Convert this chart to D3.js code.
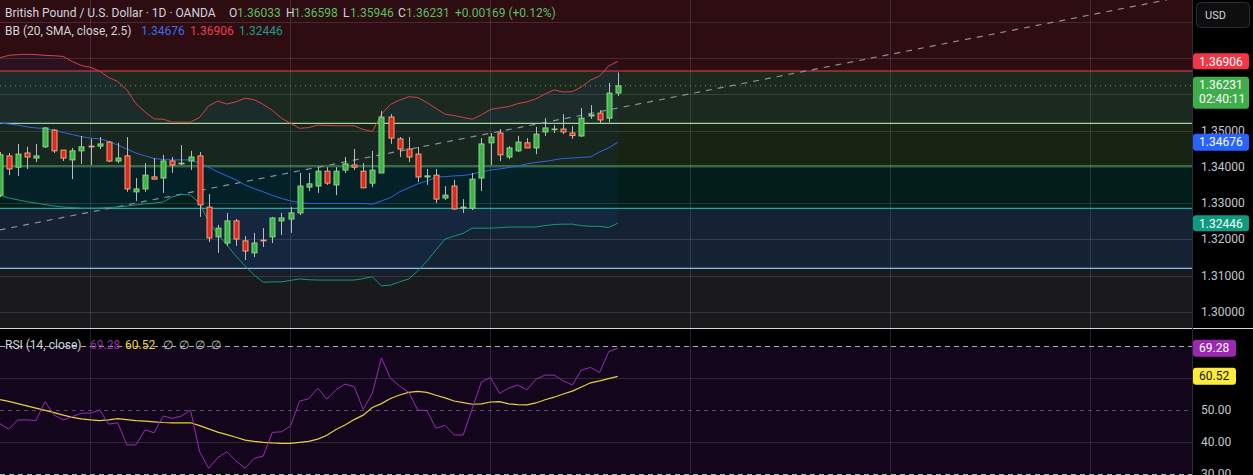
<!DOCTYPE html>
<html>
<head>
<meta charset="utf-8">
<script src="https://cdn.jsdelivr.net/npm/d3@7"></script>
<style>
  html, body { margin: 0; padding: 0; background: #000; }
  svg { display: block; font-family: Roboto, "Noto Sans", sans-serif; }
</style>
</head>
<body>
<svg id="chart" width="1253" height="475"></svg>
<script>
// daily candles, oldest first (first one is cut at the left edge)
var opens  = [1.3322,1.3430,1.3399,1.3438,1.3424,1.3455,1.3501,1.3446,1.3419,1.3444,
              1.3457,1.3457,1.3468,1.3416,1.3430,1.3331,1.3339,1.3372,1.3369,1.3416,
              1.3408,1.3416,1.3430,1.3289,1.3207,1.3190,1.3251,1.3196,1.3163,1.3198,
              1.3207,1.3251,1.3256,1.3273,1.3344,1.3347,1.3388,1.3350,1.3391,1.3405,
              1.3388,1.3355,1.3383,1.3537,1.3477,1.3449,1.3435,1.3372,1.3377,1.3314,
              1.3347,1.3286,1.3286,1.3369,1.3466,1.3493,1.3427,1.3444,1.3466,1.3452,
              1.3496,1.3503,1.3504,1.3493,1.3485,1.3540,1.3548,1.3534,1.36033];
var highs  = [1.3441,1.3438,1.3463,1.3455,1.3463,1.3510,1.3504,1.3446,1.3452,1.3485,
              1.3477,1.3482,1.3471,1.3466,1.3482,1.3369,1.3410,1.3424,1.3433,1.3427,
              1.3460,1.3444,1.3441,1.3325,1.3240,1.3273,1.3256,1.3209,1.3218,1.3231,
              1.3262,1.3273,1.3289,1.3383,1.3383,1.3399,1.3399,1.3399,1.3427,1.3449,
              1.3410,1.3444,1.3554,1.3545,1.3482,1.3482,1.3455,1.3394,1.3394,1.3347,
              1.3364,1.3311,1.3383,1.3479,1.3493,1.3504,1.3457,1.3485,1.3479,1.3510,
              1.3534,1.3515,1.3545,1.3512,1.3562,1.3570,1.3556,1.3631,1.36598];
var lows   = [1.3317,1.3377,1.3375,1.3394,1.3413,1.3452,1.3438,1.3416,1.3366,1.3408,
              1.3405,1.3449,1.3413,1.3410,1.3331,1.3306,1.3331,1.3366,1.3328,1.3383,
              1.3405,1.3391,1.3262,1.3193,1.3163,1.3182,1.3182,1.3143,1.3151,1.3179,
              1.3190,1.3212,1.3218,1.3267,1.3333,1.3328,1.3350,1.3322,1.3383,1.3391,
              1.3342,1.3344,1.3383,1.3463,1.3427,1.3413,1.3358,1.3350,1.3300,1.3309,
              1.3281,1.3273,1.3281,1.3333,1.3405,1.3416,1.3421,1.3441,1.3452,1.3435,
              1.3485,1.3493,1.3490,1.3477,1.3482,1.3532,1.3521,1.3523,1.35946];
var closes = [1.3433,1.3394,1.3435,1.3427,1.3430,1.3507,1.3444,1.3424,1.3444,1.3455,
              1.3455,1.3463,1.3416,1.3424,1.3339,1.3339,1.3377,1.3366,1.3416,1.3405,
              1.3410,1.3427,1.3295,1.3204,1.3231,1.3251,1.3201,1.3168,1.3190,1.3196,
              1.3259,1.3259,1.3273,1.3347,1.3353,1.3388,1.3355,1.3388,1.3408,1.3399,
              1.3342,1.3391,1.3537,1.3479,1.3449,1.3427,1.3372,1.3375,1.3311,1.3322,
              1.3284,1.3289,1.3366,1.3463,1.3482,1.3433,1.3452,1.3468,1.3452,1.3490,
              1.3507,1.3504,1.3496,1.3486,1.3534,1.3543,1.3529,1.3603,1.36231];

// Bollinger Bands (20, SMA, close, 2.5)
var bbUpper = [1.3700,1.3707,1.3709,1.3710,1.3709,1.3707,1.3706,1.3704,1.3690,1.3679,
               1.3674,1.3664,1.3646,1.3635,1.3612,1.3574,1.3551,1.3532,1.3531,1.3523,
               1.3523,1.3523,1.3536,1.3568,1.3581,1.3573,1.3579,1.3589,1.3585,1.3572,
               1.3556,1.3534,1.3520,1.3506,1.3508,1.3515,1.3514,1.3513,1.3513,1.3513,
               1.3503,1.3497,1.3545,1.3572,1.3584,1.3593,1.3591,1.3577,1.3561,1.3545,
               1.3541,1.3536,1.3531,1.3543,1.3558,1.3562,1.3566,1.3574,1.3579,1.3587,
               1.3601,1.3612,1.3606,1.3607,1.3620,1.3639,1.3650,1.3678,1.36906];
var bbMid   = [1.3521,1.3518,1.3515,1.3510,1.3507,1.3506,1.3501,1.3494,1.3489,1.3483,
               1.3479,1.3477,1.3470,1.3460,1.3449,1.3438,1.3430,1.3423,1.3420,1.3419,
               1.3419,1.3419,1.3410,1.3399,1.3386,1.3375,1.3364,1.3350,1.3340,1.3331,
               1.3321,1.3313,1.3306,1.3302,1.3299,1.3299,1.3299,1.3299,1.3299,1.3299,
               1.3299,1.3297,1.3306,1.3315,1.3331,1.3342,1.3353,1.3361,1.3371,1.3373,
               1.3375,1.3376,1.3380,1.3386,1.3391,1.3394,1.3398,1.3402,1.3408,1.3412,
               1.3415,1.3419,1.3423,1.3424,1.3426,1.3427,1.3441,1.3452,1.34676];
var bbLower = [1.3322,1.3314,1.3309,1.3304,1.3300,1.3296,1.3292,1.3289,1.3288,1.3286,
               1.3286,1.3286,1.3288,1.3289,1.3292,1.3295,1.3298,1.3300,1.3303,1.3317,
               1.3324,1.3322,1.3300,1.3248,1.3215,1.3185,1.3154,1.3127,1.3102,1.3082,
               1.3083,1.3083,1.3087,1.3091,1.3089,1.3088,1.3088,1.3088,1.3088,1.3088,
               1.3092,1.3097,1.3072,1.3074,1.3083,1.3091,1.3113,1.3140,1.3171,1.3201,
               1.3209,1.3217,1.3231,1.3231,1.3231,1.3232,1.3234,1.3234,1.3234,1.3234,
               1.3238,1.3241,1.3242,1.3242,1.3238,1.3236,1.3236,1.3233,1.32446];

// RSI (14, close) and its moving average
var rsi   = [45.8,44.0,46.9,46.9,46.7,52.6,48.4,46.9,47.9,49.0,
             49.0,50.0,45.6,46.0,39.1,39.1,43.8,42.9,48.1,47.4,
             48.1,50.0,37.0,31.8,35.1,37.0,34.1,31.8,34.9,35.6,
             43.0,43.2,45.0,52.8,53.5,56.8,53.4,56.3,58.1,57.3,
             50.2,55.2,66.3,59.9,57.5,55.5,50.0,49.8,44.3,45.2,
             42.2,42.2,50.5,58.8,60.1,55.2,56.8,57.8,56.3,59.6,
             60.9,60.9,59.1,57.8,62.5,63.3,61.7,68.2,69.28];
var rsiMa = [53.3,52.7,52.0,51.3,50.6,49.9,49.2,48.4,47.7,47.2,
             46.9,46.7,46.9,47.3,47.0,46.7,46.5,46.3,46.1,46.0,
             46.0,46.0,45.1,44.1,43.1,42.3,41.5,40.6,40.2,39.9,
             39.7,39.6,39.6,39.9,40.2,40.9,42.1,43.9,45.3,47.0,
             48.4,50.8,52.0,53.6,54.7,55.5,55.8,55.5,54.6,53.8,
             52.8,52.3,51.8,51.9,52.5,52.6,51.9,51.7,51.6,52.2,
             53.2,54.0,55.0,55.9,57.2,58.5,59.1,59.8,60.52];

// drawn horizontal levels, top to bottom
var levelPrices = [1.36639, 1.35198, 1.34022, 1.32857, 1.31204];
// dashed trend line: [candle index, price] at both ends
var trendIdx = [0, 128.4];
var trendPx  = [1.3226, 1.3860];

var priceTicks = [1.30, 1.31, 1.32, 1.33, 1.34, 1.35];
var priceGrid  = [1.30, 1.31, 1.32, 1.33, 1.34, 1.35, 1.36, 1.37, 1.38];
var rsiTicks   = [50, 40, 30];
var timeGridIdx = [10, 32, 54, 76, 98, 120];

var lastPrice = 1.36231, countdown = '02:40:11';

var W = 1253, H = 475, plotW = 1192, paneBottom = 328;
var svg = d3.select('#chart');

var x = d3.scaleLinear().domain([10, 32]).range([90.5, 290.5]);
var y = d3.scaleLinear().domain([1.30, 1.35]).range([312, 130.5]);
var yr = d3.scaleLinear().domain([30, 70]).range([474, 346]);

var idx = d3.range(closes.length);

svg.append('rect').attr('width', W).attr('height', H).attr('fill', '#000');

// price pane
var defs = svg.append('defs');
defs.append('clipPath').attr('id', 'pclip').append('rect')
  .attr('width', plotW).attr('height', paneBottom);
defs.append('clipPath').attr('id', 'rclip').append('rect')
  .attr('y', paneBottom + 1).attr('width', plotW).attr('height', H - paneBottom);

var pane = svg.append('g').attr('clip-path', 'url(#pclip)');

// zone backgrounds between levels
var zoneColors = ['#2d0c12', '#1b291e', '#172413', '#021d1a', '#152233', '#1a1a1c'];
var edges = [0].concat(levelPrices.map(function (p) { return y(p); })).concat([paneBottom]);
zoneColors.forEach(function (c, i) {
  pane.append('rect').attr('x', 0).attr('y', edges[i])
    .attr('width', plotW).attr('height', edges[i + 1] - edges[i]).attr('fill', c);
});

// grid
pane.selectAll('.hg').data(priceGrid).enter().append('line')
  .attr('x1', 0).attr('x2', plotW)
  .attr('y1', function (d) { return Math.round(y(d)) + 0.5; })
  .attr('y2', function (d) { return Math.round(y(d)) + 0.5; })
  .attr('stroke', 'rgba(150,155,170,0.22)');
pane.selectAll('.vg').data(timeGridIdx).enter().append('line')
  .attr('x1', function (d) { return x(d); }).attr('x2', function (d) { return x(d); })
  .attr('y1', 0).attr('y2', paneBottom)
  .attr('stroke', 'rgba(150,155,170,0.22)');

// BB fill
pane.append('path').datum(idx)
  .attr('d', d3.area()
    .x(function (i) { return x(i); })
    .y0(function (i) { return y(bbLower[i]); })
    .y1(function (i) { return y(bbUpper[i]); }))
  .attr('fill', 'rgba(41,98,255,0.06)');

// levels
var levelColors = ['#e5414f', '#9ed89a', '#5fba62', '#2aa79b', '#86c0ec'];
pane.selectAll('.lvl').data(levelPrices).enter().append('line')
  .attr('x1', 0).attr('x2', plotW)
  .attr('y1', function (d) { return y(d); })
  .attr('y2', function (d) { return y(d); })
  .attr('stroke', function (d, i) { return levelColors[i]; })
  .attr('stroke-width', 1.2);

// current price dotted line
pane.append('line').attr('x1', 0).attr('x2', plotW)
  .attr('y1', y(lastPrice)).attr('y2', y(lastPrice))
  .attr('stroke', '#4caf50').attr('stroke-dasharray', '1,4');

// trend line
pane.append('line')
  .attr('x1', x(trendIdx[0])).attr('y1', y(trendPx[0]))
  .attr('x2', x(trendIdx[1])).attr('y2', y(trendPx[1]))
  .attr('stroke', '#8c8f99').attr('stroke-width', 1.2).attr('stroke-dasharray', '6,6');

// bands
function bandLine(arr, color) {
  pane.append('path').datum(idx)
    .attr('d', d3.line().x(function (i) { return x(i); }).y(function (i) { return y(arr[i]); }))
    .attr('fill', 'none').attr('stroke', color).attr('stroke-width', 1);
}
bandLine(bbUpper, '#d9404c');
bandLine(bbMid, '#2f64e8');
bandLine(bbLower, '#16977f');

// candles
var bw = 5;
var c = pane.selectAll('.candle').data(idx).enter().append('g');
c.append('line')
  .attr('x1', function (i) { return Math.round(x(i)) + 0.5; })
  .attr('x2', function (i) { return Math.round(x(i)) + 0.5; })
  .attr('y1', function (i) { return y(highs[i]); })
  .attr('y2', function (i) { return y(lows[i]); })
  .attr('stroke', '#b9bcc4').attr('stroke-width', 1);
c.append('rect')
  .attr('x', function (i) { return Math.round(x(i)) + 0.5 - bw / 2; })
  .attr('width', bw)
  .attr('y', function (i) { return y(Math.max(opens[i], closes[i])); })
  .attr('height', function (i) { return Math.max(0.6, Math.abs(y(opens[i]) - y(closes[i]))); })
  .attr('fill', function (i) { return closes[i] >= opens[i] ? '#3fb34a' : '#dc2a1f'; })
  .attr('stroke', function (i) { return closes[i] >= opens[i] ? '#86d882' : '#f6a27c'; })
  .attr('stroke-width', 1);

// RSI pane
var rp = svg.append('g').attr('clip-path', 'url(#rclip)');
rp.append('rect').attr('x', 0).attr('y', yr(70)).attr('width', plotW)
  .attr('height', yr(30) - yr(70)).attr('fill', '#13061c');
[60, 40].forEach(function (v) {
  rp.append('line').attr('x1', 0).attr('x2', plotW)
    .attr('y1', Math.round(yr(v)) + 0.5).attr('y2', Math.round(yr(v)) + 0.5)
    .attr('stroke', 'rgba(150,155,170,0.22)');
});
rp.selectAll('.rvg').data(timeGridIdx).enter().append('line')
  .attr('x1', function (d) { return x(d); }).attr('x2', function (d) { return x(d); })
  .attr('y1', paneBottom).attr('y2', H)
  .attr('stroke', 'rgba(150,155,170,0.22)');
rp.append('line').attr('x1', 0).attr('x2', plotW)
  .attr('y1', Math.round(yr(50)) + 0.5).attr('y2', Math.round(yr(50)) + 0.5)
  .attr('stroke', 'rgba(160,160,170,0.45)').attr('stroke-dasharray', '4,4');
[70, 30].forEach(function (v) {
  rp.append('line').attr('x1', 0).attr('x2', plotW)
    .attr('y1', Math.round(yr(v)) + 0.5).attr('y2', Math.round(yr(v)) + 0.5)
    .attr('stroke', '#a9abb3').attr('stroke-dasharray', '5,4');
});
rp.append('path').datum(idx)
  .attr('d', d3.line().x(function (i) { return x(i); }).y(function (i) { return yr(rsiMa[i]); }))
  .attr('fill', 'none').attr('stroke', '#e8cf3c').attr('stroke-width', 1.2);
rp.append('path').datum(idx)
  .attr('d', d3.line().x(function (i) { return x(i); }).y(function (i) { return yr(rsi[i]); }))
  .attr('fill', 'none').attr('stroke', '#9b2cb3').attr('stroke-width', 1);

// pane separator
svg.append('line').attr('x1', 0).attr('x2', W)
  .attr('y1', paneBottom + 0.5).attr('y2', paneBottom + 0.5)
  .attr('stroke', '#d6d8de').attr('stroke-width', 1.2);

// price axis
svg.append('line').attr('x1', plotW + 0.5).attr('x2', plotW + 0.5)
  .attr('y1', 0).attr('y2', H).attr('stroke', '#2a2e39');
svg.selectAll('.pt').data(priceTicks).enter().append('text')
  .attr('x', 1201).attr('y', function (d) { return y(d) + 4; })
  .attr('fill', '#c3c6ce').attr('font-size', 12)
  .text(function (d) { return d.toFixed(5); });
svg.selectAll('.rt').data(rsiTicks).enter().append('text')
  .attr('x', 1201).attr('y', function (d) { return yr(d) + 4; })
  .attr('fill', '#c3c6ce').attr('font-size', 12)
  .text(function (d) { return d.toFixed(2); });

function pill(cy, w, h, fill, lines, txtColor) {
  svg.append('rect').attr('x', 1193).attr('y', cy - h / 2)
    .attr('width', w).attr('height', h).attr('rx', 3).attr('fill', fill);
  lines.forEach(function (t, j) {
    svg.append('text').attr('x', 1199).attr('y', cy - h / 2 + 12.5 + j * 14)
      .attr('fill', txtColor || '#fff').attr('font-size', 12).text(t);
  });
}
var last = closes.length - 1;
pill(y(bbUpper[last]), 56, 16, '#f23645', [bbUpper[last].toFixed(5)]);
pill(y(lastPrice) + 7, 56, 32, '#3fae4a', [lastPrice.toFixed(5), countdown]);
pill(y(bbMid[last]), 56, 17, '#2962ff', [bbMid[last].toFixed(5)]);
pill(y(bbLower[last]), 56, 16, '#0c9a80', [bbLower[last].toFixed(5)]);
pill(yr(rsi[last]), 43, 17, '#9c27b0', [rsi[last].toFixed(2)]);
pill(yr(rsiMa[last]), 43, 17, '#ffeb3b', [rsiMa[last].toFixed(2)], '#131722');

// currency button
svg.append('rect').attr('x', 1196.5).attr('y', 2.5).attr('width', 53).attr('height', 25)
  .attr('rx', 4).attr('fill', '#0e0e0e').attr('stroke', '#2a2e39');
svg.append('text').attr('x', 1205).attr('y', 19).attr('fill', '#d1d4dc')
  .attr('font-size', 11).text('USD');

// legends
var up = '#5cbf5e';
function seg(xp, yp, t, col) {
  svg.append('text').attr('x', xp).attr('y', yp).attr('fill', col)
    .attr('font-size', 12).text(t);
}
seg(5, 17, 'British Pound / U.S. Dollar · 1D · OANDA', '#d1d4dc');
seg(229, 17, 'O', '#d1d4dc'); seg(237, 17, opens[last].toFixed(5), up);
seg(286, 17, 'H', '#d1d4dc'); seg(294, 17, highs[last].toFixed(5), up);
seg(343, 17, 'L', '#d1d4dc'); seg(350, 17, lows[last].toFixed(5), up);
seg(398, 17, 'C', '#d1d4dc'); seg(406, 17, closes[last].toFixed(5), up);
seg(455, 17, '+0.00169 (+0.12%)', up);

seg(5, 35, 'BB (20, SMA, close, 2.5)', '#d1d4dc');
seg(141, 35, bbMid[last].toFixed(5), '#3a6cf0');
seg(190, 35, bbUpper[last].toFixed(5), '#e8404e');
seg(239, 35, bbLower[last].toFixed(5), '#15a086');

seg(5, 349, 'RSI (14, close)', '#d1d4dc');
seg(90, 349, rsi[last].toFixed(2), '#8e2aa6');
seg(125, 349, rsiMa[last].toFixed(2), '#f0d83a');
['∅', '∅', '∅', '∅'].forEach(function (t, j) { seg(163 + j * 16, 349, t, '#c3c6ce'); });
</script>
</body>
</html>
